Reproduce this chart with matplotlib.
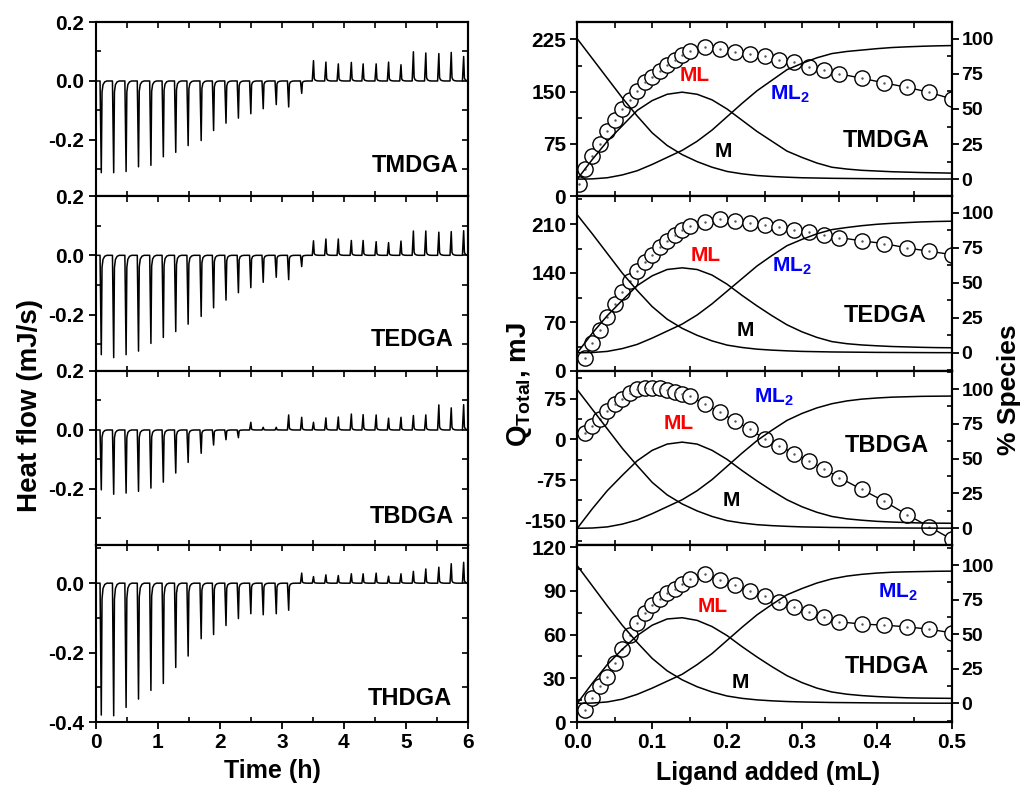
import numpy as np
import matplotlib
matplotlib.use("Agg")
import matplotlib.pyplot as plt
from matplotlib.ticker import MultipleLocator

plt.rcParams['font.family'] = ['Liberation Sans', 'DejaVu Sans']
plt.rcParams['font.weight'] = 'bold'
plt.rcParams['axes.linewidth'] = 1.5
plt.rcParams['axes.unicode_minus'] = False
plt.rcParams['mathtext.fontset'] = 'custom'
plt.rcParams['mathtext.rm'] = 'Liberation Sans:bold'
plt.rcParams['mathtext.bf'] = 'Liberation Sans:bold'

NAMES = ["TMDGA", "TEDGA", "TBDGA", "THDGA"]

# ---- raw ITC thermograms (left column): injection times and peak heights
T_INJ = [0.09, 0.29, 0.49, 0.69, 0.89, 1.09, 1.29, 1.49, 1.70, 1.90,
         2.10, 2.30, 2.50, 2.70, 2.91, 3.11, 3.32, 3.51, 3.71, 3.91,
         4.12, 4.31, 4.52, 4.72, 4.92, 5.12, 5.32, 5.53, 5.73, 5.93]
H_TMDGA = [-0.311, -0.311, -0.307, -0.291, -0.286, -0.257, -0.242, -0.219, -0.202, -0.168,
           -0.143, -0.126, -0.111, -0.094, -0.080, -0.088, -0.042, 0.069, 0.064, 0.058,
           0.063, 0.058, 0.058, 0.064, 0.055, 0.099, 0.095, 0.093, 0.097, 0.083]
H_TEDGA = [-0.335, -0.345, -0.335, -0.323, -0.297, -0.277, -0.257, -0.232, -0.206, -0.177,
           -0.151, -0.126, -0.109, -0.091, -0.074, -0.082, -0.038, 0.049, 0.055, 0.055,
           0.050, 0.050, 0.046, 0.043, 0.048, 0.082, 0.082, 0.078, 0.080, 0.083]
H_TBDGA = [-0.203, -0.218, -0.214, -0.208, -0.197, -0.177, -0.146, -0.110, -0.079, -0.051,
           -0.033, -0.026, 0.026, 0.009, 0.009, 0.051, 0.043, 0.026, 0.041, 0.044,
           0.054, 0.052, 0.051, 0.040, 0.043, 0.049, 0.051, 0.085, 0.075, 0.086]
H_THDGA = [-0.380, -0.382, -0.358, -0.334, -0.309, -0.289, -0.243, -0.210, -0.160, -0.148,
           -0.122, -0.102, -0.088, -0.091, -0.088, -0.078, 0.029, 0.019, 0.024, 0.022,
           0.027, 0.027, 0.029, 0.020, 0.027, 0.034, 0.041, 0.046, 0.056, 0.060]

# shape of one injection peak (time offset in h, fraction of peak height)
PEAK_DT = [-0.02, 0.0, 0.012, 0.028, 0.055, 0.09]
PEAK_FR = [0.0, 1.0, 0.12, 0.04, 0.01, 0.0]

# ---- integrated heat (right column, left axis)
X_Q = [0.01, 0.02, 0.03, 0.04, 0.05, 0.06, 0.07, 0.08, 0.09, 0.10,
       0.11, 0.12, 0.13, 0.14, 0.15, 0.17, 0.19, 0.21, 0.23, 0.25,
       0.27, 0.29, 0.31, 0.33, 0.35, 0.38, 0.41, 0.44, 0.47, 0.50]
X_Q_TMDGA = [0.002] + X_Q
Q_TMDGA = [17.8, 38.5, 57.2, 74.5, 93.8, 109.1, 125, 138.5, 151.4, 163.5, 171.6,
           180.3, 188.5, 195.7, 201.9, 208.1, 213.9, 210.6, 206.7, 204.3, 200.5,
           195.7, 192.3, 186, 181.3, 175.5, 169.2, 162.5, 156.2, 149, 139.5]
Q_TEDGA = [19.1, 39.8, 58.9, 77.6, 95.3, 112.6, 127.9, 142.3, 155.7, 166.3,
           176.8, 185.4, 194, 201.2, 207.4, 212.3, 216.6, 214.6, 211.7, 208.4,
           205.1, 201.2, 198.8, 194, 190.7, 185.8, 182.1, 175.8, 171.1, 166.3]
Q_TBDGA = [11.2, 24.9, 37.5, 53.1, 64.3, 75, 86.2, 92.4, 94.9, 94.9,
           93.8, 90.6, 87.4, 84.4, 79.3, 65.6, 49.9, 34.3, 18.8, 1.1,
           -12.6, -26.3, -40.7, -55.1, -70.7, -92.6, -114.4, -138.8, -161.3, -184.5]
Q_THDGA = [8.3, 16.8, 24.9, 31.2, 40.4, 50.4, 59.6, 67.7, 74.6, 80.4,
           84.5, 88.5, 91.2, 94.7, 98.4, 101.4, 97.2, 94.2, 90.1, 86.6,
           82.7, 78.8, 75.3, 71.9, 68.8, 67.2, 66.5, 65.3, 63.7, 61.2]

# ---- species distribution (right column, right axis, %)
X_SP = [0.00, 0.02, 0.04, 0.06, 0.08, 0.10, 0.12, 0.14, 0.16, 0.18, 0.20, 0.22, 0.24,
        0.26, 0.28, 0.30, 0.32, 0.34, 0.36, 0.38, 0.40, 0.42, 0.44, 0.46, 0.48, 0.50]
M_TMDGA = [100, 86, 72, 58, 45, 33, 24, 17.5, 12.5, 8.5, 5.5, 3.8, 2.6,
           1.9, 1.4, 1.0, 0.8, 0.6, 0.5, 0.4, 0.3, 0.25, 0.2, 0.15, 0.1, 0.1]
ML_TMDGA = [0, 14, 27, 38, 49, 56, 60.5, 62, 60.5, 56.5, 50, 42, 34,
            27, 20, 15.5, 11.5, 8.5, 7.2, 6.3, 5.8, 5.3, 5.0, 4.7, 4.5, 4.3]
ML2_TMDGA = [0, 0.2, 1, 3, 6, 10.5, 15.5, 20.5, 27, 35, 44.5, 54, 63,
             70.5, 78, 82.5, 86.5, 89.5, 91, 92, 93, 93.8, 94.3, 94.7, 95, 95.2]
M_TEDGA = [98.5, 85, 71, 57, 44.5, 33, 24, 17.5, 12.5, 8.5, 5.5, 3.8, 2.6,
           1.9, 1.4, 1.0, 0.8, 0.6, 0.5, 0.4, 0.3, 0.25, 0.2, 0.15, 0.1, 0.1]
ML_TEDGA = [0, 14, 26.5, 37.5, 48, 55, 59.5, 60.7, 59.5, 55.5, 49, 41, 33.5,
            26.5, 20, 15, 11, 8, 6.5, 5.6, 5, 4.5, 4.2, 3.9, 3.7, 3.6]
ML2_TEDGA = [0, 0.2, 1, 3, 6, 10.5, 15.5, 20.5, 27, 35, 44, 53, 62,
             69.5, 76.5, 81, 85, 88, 89.5, 90.8, 91.8, 92.5, 93, 93.5, 93.8, 94]
M_TBDGA = [99.5, 85.5, 71.5, 57.5, 45, 33, 24, 17.5, 12.5, 8.5, 5.5, 3.8, 2.6,
           1.9, 1.4, 1.0, 0.8, 0.6, 0.5, 0.4, 0.3, 0.25, 0.2, 0.15, 0.1, 0.1]
ML_TBDGA = [0, 14, 27, 38, 48.5, 56, 60.5, 61.9, 60.5, 56, 49.5, 41.5, 34,
            27, 20.5, 15.5, 11.5, 8.5, 6.8, 5.8, 5, 4.5, 4.1, 3.8, 3.7, 3.6]
ML2_TBDGA = [0, 0.2, 1, 3, 6, 10.5, 15.5, 20.5, 27, 35, 44.5, 54, 63,
             70.5, 77.5, 82.5, 86.5, 89.5, 91.5, 92.8, 93.6, 94.2, 94.5, 94.8, 94.9, 95]
M_THDGA = [99.5, 85, 70.5, 56.5, 44, 32.5, 23.5, 17, 12, 8.2, 5.3, 3.6, 2.5,
           1.8, 1.3, 1.0, 0.8, 0.6, 0.5, 0.4, 0.3, 0.25, 0.2, 0.15, 0.1, 0.1]
ML_THDGA = [0, 14.5, 28, 39, 49, 56.5, 61, 61.9, 60, 55.5, 49, 41, 33.5,
            26.5, 20, 15, 11, 8.2, 6.6, 5.6, 4.9, 4.4, 4.0, 3.8, 3.7, 3.6]
ML2_THDGA = [0, 0.2, 1, 3, 6.5, 11, 16, 21, 28, 36, 45.5, 55, 64,
             71.5, 78.5, 83, 87, 90, 92, 93.3, 94.2, 94.8, 95.1, 95.3, 95.5, 95.6]

thermo = [H_TMDGA, H_TEDGA, H_TBDGA, H_THDGA]
q_x = [X_Q_TMDGA, X_Q, X_Q, X_Q]
q_y = [Q_TMDGA, Q_TEDGA, Q_TBDGA, Q_THDGA]
species = [(M_TMDGA, ML_TMDGA, ML2_TMDGA), (M_TEDGA, ML_TEDGA, ML2_TEDGA),
           (M_TBDGA, ML_TBDGA, ML2_TBDGA), (M_THDGA, ML_THDGA, ML2_THDGA)]

# layout (pixel rows of the four panels)
W, H = 1022, 786
rows = [(22, 196), (196, 371), (371, 545), (545, 722)]
left_l, left_r = 95.7, 468
right_l, right_r = 577.3, 951.7

heat_ylim = [(-0.39, 0.2), (-0.39, 0.2), (-0.39, 0.2), (-0.4, 0.11)]
heat_ticks = [[-0.2, 0, 0.2], [-0.2, 0, 0.2], [-0.2, 0, 0.2], [-0.4, -0.2, 0.0]]
q_ylim = [(0, 250), (0, 250), (-195, 126), (0, 121.5)]
q_major = [75, 70, 75, 30]
sp_ylim = [(-12, 112), (-13, 112), (-12, 113), (-13.5, 114.5)]

# label positions (axes fraction)
name_left_pos = [(0.858, 0.173), (0.849, 0.18), (0.849, 0.163), (0.844, 0.134)]
ml_pos = [(0.314, 0.694), (0.343, 0.661), (0.270, 0.698), (0.361, 0.651)]
ml2_pos = [(0.568, 0.584), (0.573, 0.598), (0.524, 0.848), (0.857, 0.736)]
m_pos = [(0.391, 0.254), (0.448, 0.230), (0.412, 0.254), (0.436, 0.222)]
name_right_pos = [(0.826, 0.318), (0.822, 0.316), (0.826, 0.572), (0.826, 0.316)]

fig = plt.figure(figsize=(W / 100, H / 100), dpi=100)


def style_ticks(ax, size=15, pad=3):
    ax.tick_params(which='major', direction='out', length=5, width=1.3,
                   labelsize=size, pad=pad)
    ax.tick_params(which='minor', direction='in', length=3.5, width=1.2)


for i in range(4):
    top, bot = rows[i]
    # ---------------- left: thermogram
    ax = fig.add_axes([left_l / W, 1 - bot / H, (left_r - left_l) / W, (bot - top) / H])
    t = [0.0]
    y = [0.0]
    for ti, hi in zip(T_INJ, thermo[i]):
        t += [ti + d for d in PEAK_DT]
        y += [hi * f for f in PEAK_FR]
    ax.plot(t, y, color='black', lw=1.1)
    ax.set_xlim(0, 6)
    ax.set_ylim(*heat_ylim[i])
    ax.set_yticks(heat_ticks[i])
    ax.set_yticklabels(["%.1f" % v for v in heat_ticks[i]])
    ax.yaxis.set_minor_locator(MultipleLocator(0.1))
    ax.xaxis.set_major_locator(MultipleLocator(1))
    ax.xaxis.set_minor_locator(MultipleLocator(0.5))
    style_ticks(ax)
    if i < 3:
        ax.tick_params(labelbottom=False)
    sx = ax.secondary_xaxis('top')
    sx.set_xticks(np.arange(0, 6.01, 0.5))
    sx.tick_params(direction='in', length=4, width=1.2, labeltop=False)
    sy = ax.secondary_yaxis('right')
    sy.set_yticks(np.arange(-0.4, 0.21, 0.1))
    sy.tick_params(direction='in', length=4, width=1.2, labelright=False)
    ax.text(*name_left_pos[i], NAMES[i], transform=ax.transAxes, fontsize=17,
            fontweight='bold', ha='center', va='center')

    # ---------------- right: heat + speciation
    ax2 = fig.add_axes([right_l / W, 1 - bot / H, (right_r - right_l) / W, (bot - top) / H])
    ax2.plot(q_x[i], q_y[i], '-', color='black', lw=1.0, zorder=2)
    ax2.plot(q_x[i], q_y[i], 'o', ms=11, mfc='white', mec='black', mew=1.0, zorder=3)
    ax2.plot(q_x[i], q_y[i], '.', ms=1.5, color='#555555', zorder=4)
    ax2.set_xlim(0, 0.5)
    ax2.set_ylim(*q_ylim[i])
    ax2.yaxis.set_major_locator(MultipleLocator(q_major[i]))
    ax2.yaxis.set_minor_locator(MultipleLocator(q_major[i] / 2))
    ax2.xaxis.set_major_locator(MultipleLocator(0.1))
    ax2.xaxis.set_minor_locator(MultipleLocator(0.05))
    ax2.xaxis.set_major_formatter(plt.FormatStrFormatter('%.1f'))
    style_ticks(ax2)
    if i < 3:
        ax2.tick_params(labelbottom=False)
    sx2 = ax2.secondary_xaxis('top')
    sx2.set_xticks(np.arange(0, 0.501, 0.05))
    sx2.tick_params(direction='in', length=4, width=1.2, labeltop=False)

    tw = ax2.twinx()
    m, ml, ml2 = species[i]
    for s in (m, ml, ml2):
        tw.plot(X_SP, s, color='black', lw=1.1)
    tw.set_ylim(*sp_ylim[i])
    tw.yaxis.set_major_locator(MultipleLocator(25))
    tw.yaxis.set_minor_locator(MultipleLocator(12.5))
    style_ticks(tw, size=14, pad=2)

    tw.text(*ml_pos[i], "ML", transform=tw.transAxes, color='red', fontsize=15,
            fontweight='bold', ha='center', va='center')
    tw.text(*ml2_pos[i], r"ML$_{\mathbf{2}}$", transform=tw.transAxes, color='blue',
            fontsize=15, fontweight='bold', ha='center', va='center')
    tw.text(*m_pos[i], "M", transform=tw.transAxes, color='black', fontsize=15,
            fontweight='bold', ha='center', va='center')
    tw.text(*name_right_pos[i], NAMES[i], transform=tw.transAxes, fontsize=17,
            fontweight='bold', ha='center', va='center')

fig.text(30 / W, 1 - 405 / H, "Heat flow (mJ/s)", rotation=90, fontsize=20,
         fontweight='bold', ha='center', va='center')
fig.text(520 / W, 1 - 385 / H, r"Q$_{\mathbf{Total}}$, mJ", rotation=90, fontsize=20,
         fontweight='bold', ha='center', va='center')
fig.text(1009 / W, 1 - 390 / H, "% Species", rotation=90, fontsize=19,
         fontweight='bold', ha='center', va='center')
fig.text(272 / W, 1 - 771 / H, "Time (h)", fontsize=18, fontweight='bold',
         ha='center', va='center')
fig.text(768 / W, 1 - 773 / H, "Ligand added (mL)", fontsize=18, fontweight='bold',
         ha='center', va='center')

fig.savefig("out.png", dpi=100)
